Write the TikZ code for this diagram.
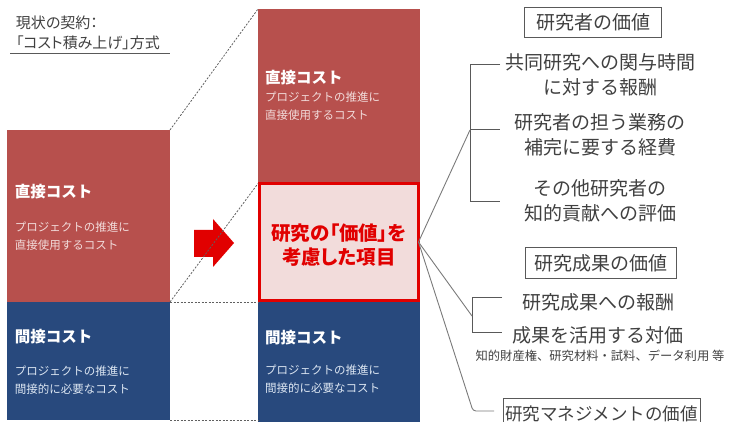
\documentclass[tikz,border=0pt]{standalone}
\usepackage{fontspec}
\setmainfont{Noto Sans CJK JP}
\newfontfamily\jpp[RawFeature=+palt]{Noto Sans CJK JP}
\definecolor{cred}{HTML}{B7504D}
\definecolor{cblue}{HTML}{28497D}
\definecolor{cpink}{HTML}{F2DCDB}
\definecolor{cbright}{HTML}{E10000}
\definecolor{csubr}{HTML}{F2DCDB}
\definecolor{csubb}{HTML}{DCE6F2}
\definecolor{ctext}{HTML}{404040}
\definecolor{cline}{HTML}{595959}
\definecolor{cdash}{HTML}{606060}
\begin{document}
\begin{tikzpicture}[x=1pt,y=-1pt,
  every node/.style={inner sep=0pt, outer sep=0pt},
  block/.style={draw=none, anchor=north west},
  dashcon/.style={draw=cdash, line width=0.8pt, dash pattern=on 2pt off 1.5pt},
  ttl/.style={anchor=west, text=white, font=\fontsize{15.5}{18}\selectfont\bfseries},
  subr/.style={anchor=west, align=left, text=csubr, font=\fontsize{11.5}{17.5}\selectfont},
  subb/.style={anchor=west, align=left, text=csubb, font=\fontsize{11.5}{18.5}\selectfont},
  rtext/.style={align=center, text=ctext, font=\fontsize{19}{25}\selectfont},
  rbox/.style={draw=cline, line width=0.8pt, text=ctext, font=\fontsize{19}{22}\selectfont},
  brk/.style={draw=cline, line width=1pt},
  conn/.style={draw=cline!80, line width=0.9pt}]
\useasboundingbox (0,0) rectangle (732,422);
\clip (0,0) rectangle (732,422);

% title
\node[anchor=west, align=left, text=ctext, font=\jpp\fontsize{15}{20}\selectfont] (title) at (16,33) {現状の契約：\\「コスト積み上げ」方式};
\coordinate (ulA) at (10,53);
\coordinate (ulB) at (170,53);
\draw[cline, line width=0.8pt] (ulA) -- (ulB);

% left column
\node[block, fill=cred, minimum width=163pt, minimum height=172pt] (lred) at (7,130) {};
\node[block, fill=cblue, minimum width=163pt, minimum height=118pt] (lblue) at (7,302) {};
\node[ttl] (lredt) at (15,192) {直接コスト};
\node[subr] (lreds) at (15,236) {プロジェクトの推進に\\直接使用するコスト};
\node[ttl] (lbluet) at (15,337) {間接コスト};
\node[subb] (lblues) at (15,380) {プロジェクトの推進に\\間接的に必要なコスト};

% middle column
\node[block, fill=cred, minimum width=162pt, minimum height=173pt] (mred) at (258,9) {};
\node[block, fill=cblue, minimum width=162pt, minimum height=125pt] (mblue) at (258,302) {};
\node[fill=cpink, draw=cbright, line width=3pt, minimum width=159pt, minimum height=117pt] (mpink) at (339,242) {};
\node[ttl] (mredt) at (265,78) {直接コスト};
\node[subr, font=\fontsize{11.5}{18}\selectfont] (mreds) at (265,106) {プロジェクトの推進に\\直接使用するコスト};
\node[ttl] (mbluet) at (265,338) {間接コスト};
\node[subb] (mblues) at (265,379) {プロジェクトの推進に\\間接的に必要なコスト};
\node[align=center, text=cbright, font=\jpp\fontsize{19.5}{24.5}\selectfont\bfseries] (ctext) at (339,245) {研究の「価値」を\\考慮した項目};

% arrow
\fill[cbright] (194,230) -- (213,230) -- (213,219) -- (234,243) -- (213,267) -- (213,257) -- (194,257) -- cycle;

% dashed connectors
\coordinate (mbot) at (258,420);
\draw[dashcon] (lred.north east) -- (mred.north west);
\draw[dashcon] (lred.south east) -- (mpink.north west -| mred.west);
\draw[dashcon] (lred.south east) -- (mblue.north west);
\draw[dashcon] (lblue.south east) -- (mbot);

% right side
\node[rbox, minimum width=137pt, minimum height=30pt] (r1) at (593,22) {研究者の価値};
\node[rtext] (i1) at (600,75) {共同研究への関与時間\\に対する報酬};
\node[rtext] (i2) at (600,135) {研究者の担う業務の\\補完に要する経費};
\node[rtext] (i3) at (600,201) {その他研究者の\\知的貢献への評価};
\node[rbox, minimum width=151pt, minimum height=31pt] (r2) at (601,263) {研究成果の価値};
\node[rtext] (i4) at (598,302) {研究成果への報酬};
\node[rtext] (i5) at (598,335) {成果を活用する対価};
\node[text=ctext, font=\fontsize{12.3}{14}\selectfont] (i6) at (600,356) {知的財産権、研究材料・試料、データ利用 等};
\node[rbox, anchor=north west, minimum width=197pt, minimum height=32pt, font=\fontsize{17.5}{20}\selectfont] (r3) at (503,398) {研究マネジメントの価値};

% bracket 1
\coordinate (b1t) at (470,65);
\coordinate (b1m) at (470,130);
\coordinate (b1b) at (470,202);
\draw[brk] (500,65) -- (b1t) -- (b1b) -- (500,202);
\draw[brk] (b1m) -- (500,130);
% bracket 2
\coordinate (b2t) at (472,298);
\coordinate (b2m) at (472,316);
\coordinate (b2b) at (472,333);
\draw[brk] (502,298) -- (b2t) -- (b2b) -- (502,333);
% connectors
\coordinate (b3c) at (473,411);
\coordinate (b3e) at (494,411);
\draw[conn] (mpink.east) -- (b1m);
\draw[conn] (mpink.east) -- (b2m);
\draw[conn, rounded corners=3pt] (mpink.east) -- (b3c) -- (b3e);
\end{tikzpicture}
\end{document}
